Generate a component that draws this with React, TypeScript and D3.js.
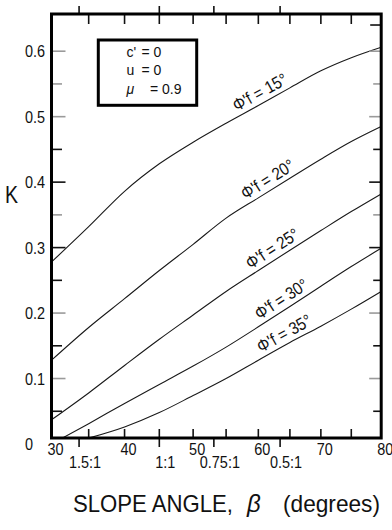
import * as d3 from "d3";
import {useEffect, useRef} from "react";

const beta = [30, 35, 40, 45, 50, 55, 60, 65, 70, 75, 80];

// K for each friction angle phi'f
const k15 = [0.278, 0.332, 0.386, 0.428, 0.461, 0.490, 0.517, 0.544, 0.570, 0.590, 0.606];
const k20 = [0.128, 0.178, 0.222, 0.265, 0.305, 0.345, 0.376, 0.406, 0.435, 0.462, 0.485];
const k25 = [0.037, 0.078, 0.120, 0.160, 0.197, 0.233, 0.265, 0.296, 0.326, 0.355, 0.382];
const k30 = [0.0, 0.031, 0.062, 0.091, 0.119, 0.148, 0.179, 0.210, 0.241, 0.271, 0.299];
const k35 = [null, 0.009, 0.026, 0.048, 0.074, 0.100, 0.128, 0.155, 0.180, 0.206, 0.233];

const phiValues = ["15", "20", "25", "30", "35"];
const labelBeta = [57, 58.4, 59.2, 60.6, 60.8]; // where each curve label starts

const xTickLabels = [30, 40, 50, 60, 70, 80];
const xTicks = [35, 40, 45, 50, 55, 60, 65, 70, 75];
const ratioLabels = ["1.5:1", "1:1", "0.75:1", "0.5:1"];
const ratioRun = [1.5, 1, 0.75, 0.5]; // horizontal : 1 vertical

const yTickLabels = [0, 0.1, 0.2, 0.3, 0.4, 0.5, 0.6];
const yTicks = [0.05, 0.1, 0.15, 0.2, 0.25, 0.3, 0.35, 0.4, 0.45, 0.5, 0.55, 0.6];
const yGrayTicks = [0.1, 0.2, 0.35, 0.5, 0.55, 0.6];
const yExtraRightTick = 0.64;

const boxLines = [["c'", "= 0"], ["u", "= 0"], ["\u03bc", "= 0.9"]];

const FONT = "'Liberation Sans', Arial, Helvetica, sans-serif";

export default function App() {
    const svgRef = useRef(null);

    useEffect(() => {
        if (!svgRef.current) return;
        d3.select(svgRef.current).selectAll("*").remove();

        const width = 392;
        const height = 530;
        const left = 51.5, right = 381.2, top = 14, bottom = 438;

        // the slope-angle axis is compressed toward steep angles
        const x = d3.scalePow().exponent(0.75).domain([30, 80]).range([left, right]);
        const y = d3.scaleLinear().domain([0, 0.6]).range([444, 51.2]);

        const svg = d3.select(svgRef.current)
            .attr("width", width)
            .attr("height", height)
            .attr("viewBox", [0, 0, width, height])
            .style("position", "absolute")
            .style("left", "0px")
            .style("top", "0px")
            .style("background", "#fff")
            .attr("font-family", FONT);

        // squeezed text helper, the scan is narrow
        const label = (g, tx, ty, str, size, sx = 0.85, anchor = "start") =>
            g.append("text")
                .attr("transform", `translate(${tx},${ty}) scale(${sx},1)`)
                .attr("font-size", size)
                .attr("text-anchor", anchor)
                .attr("fill", "#111")
                .text(str);

        svg.append("clipPath").attr("id", "plot-clip")
            .append("rect")
            .attr("x", left).attr("y", top)
            .attr("width", right - left).attr("height", bottom - top);

        // curves
        const series = [k15, k20, k25, k30, k35];
        const line = d3.line()
            .defined(d => d[1] != null)
            .x(d => x(d[0]))
            .y(d => y(d[1]))
            .curve(d3.curveMonotoneX);

        svg.append("g")
            .attr("clip-path", "url(#plot-clip)")
            .selectAll("path")
            .data(series)
            .join("path")
            .attr("d", s => line(beta.map((b, i) => [b, s[i]])))
            .attr("fill", "none")
            .attr("stroke", "#1a1a1a")
            .attr("stroke-width", 1.1);

        // curve labels, laid along the local slope
        series.forEach((s, i) => {
            const pts = beta.map((b, j) => [b, s[j]]).filter(d => d[1] != null);
            const kAt = d3.scaleLinear().domain(pts.map(d => d[0])).range(pts.map(d => d[1]));
            const b0 = labelBeta[i];
            const x0 = x(b0), y0 = y(kAt(b0));
            const x1 = x(b0 + 5), y1 = y(kAt(b0 + 5));
            const a = Math.atan2(y1 - y0, x1 - x0);
            const off = 5;
            const tx = x0 + off * Math.sin(a), ty = y0 - off * Math.cos(a);
            svg.append("text")
                .attr("transform", `translate(${tx},${ty}) rotate(${a * 180 / Math.PI}) scale(0.95,1.08)`)
                .attr("font-size", 16)
                .attr("fill", "#111")
                .text(`\u03a6'f = ${phiValues[i]}\u00b0`);
        });

        // y ticks, left and right, pointing inward
        const isMajor = v => Math.abs(v * 10 - Math.round(v * 10)) < 1e-6;
        const tickColor = v => yGrayTicks.some(g => Math.abs(g - v) < 1e-6) ? "#9a9a9a" : "#111";
        const yt = svg.append("g").attr("stroke-width", 1.6);
        yTicks.forEach(v => {
            yt.append("line")
                .attr("x1", left).attr("x2", left + (isMajor(v) ? 14 : 10.5))
                .attr("y1", y(v)).attr("y2", y(v))
                .attr("stroke", tickColor(v));
            yt.append("line")
                .attr("x1", right).attr("x2", right - (isMajor(v) ? 12 : 8))
                .attr("y1", y(v)).attr("y2", y(v))
                .attr("stroke", tickColor(v));
        });
        yt.append("line")
            .attr("x1", right).attr("x2", right - 11)
            .attr("y1", y(yExtraRightTick)).attr("y2", y(yExtraRightTick))
            .attr("stroke", "#111");

        yTickLabels.forEach(v => {
            label(svg, 25, y(v) + 6, String(v), 17);
        });

        // x ticks: degrees inward, slope ratios outward
        const xt = svg.append("g").attr("stroke", "#111").attr("stroke-width", 1.6);
        xTicks.forEach(v => {
            xt.append("line").attr("x1", x(v)).attr("x2", x(v)).attr("y1", top).attr("y2", top + 10);
            xt.append("line").attr("x1", x(v)).attr("x2", x(v)).attr("y1", bottom).attr("y2", bottom - 9);
        });
        ratioRun.forEach(r => {
            const ang = Math.atan(1 / r) * 180 / Math.PI;
            xt.append("line").attr("x1", x(ang)).attr("x2", x(ang)).attr("y1", top).attr("y2", top - 8);
            xt.append("line").attr("x1", x(ang)).attr("x2", x(ang)).attr("y1", bottom).attr("y2", bottom + 9);
        });

        xTickLabels.forEach(v => {
            label(svg, x(v) + 4, 455, String(v), 17, 0.85, "middle");
        });
        ratioRun.forEach((r, i) => {
            const ang = Math.atan(1 / r) * 180 / Math.PI;
            label(svg, x(ang) + 6, 468, ratioLabels[i], 17, 0.85, "middle");
        });

        // frame
        svg.append("rect")
            .attr("x", left).attr("y", top)
            .attr("width", right - left).attr("height", bottom - top)
            .attr("fill", "none")
            .attr("stroke", "#000")
            .attr("stroke-width", 3);

        // parameter box
        svg.append("rect")
            .attr("x", 98.3).attr("y", 40)
            .attr("width", 98.4).attr("height", 65.3)
            .attr("fill", "#fff")
            .attr("stroke", "#000")
            .attr("stroke-width", 3);
        boxLines.forEach(([sym, rest], i) => {
            const by = 56.5 + i * 18.5;
            svg.append("text")
                .attr("x", 126.5).attr("y", by)
                .attr("font-size", 14)
                .attr("font-style", i === 2 ? "italic" : "normal")
                .attr("fill", "#111")
                .text(sym);
            svg.append("text")
                .attr("x", i === 2 ? 150 : 141.5).attr("y", by)
                .attr("font-size", 14)
                .attr("fill", "#111")
                .text(rest);
        });

        // axis titles
        label(svg, 5, 203, "K", 23);
        svg.append("text")
            .attr("x", 73).attr("y", 512)
            .attr("font-size", 24)
            .attr("textLength", 160).attr("lengthAdjust", "spacingAndGlyphs")
            .attr("fill", "#111")
            .text("SLOPE ANGLE,");
        svg.append("text")
            .attr("x", 247).attr("y", 512)
            .attr("font-size", 24)
            .attr("font-style", "italic")
            .attr("fill", "#111")
            .text("\u03b2");
        svg.append("text")
            .attr("x", 283).attr("y", 512)
            .attr("font-size", 24)
            .attr("textLength", 97).attr("lengthAdjust", "spacingAndGlyphs")
            .attr("fill", "#111")
            .text("(degrees)");
    }, []);

    return <svg ref={svgRef}></svg>;
}
